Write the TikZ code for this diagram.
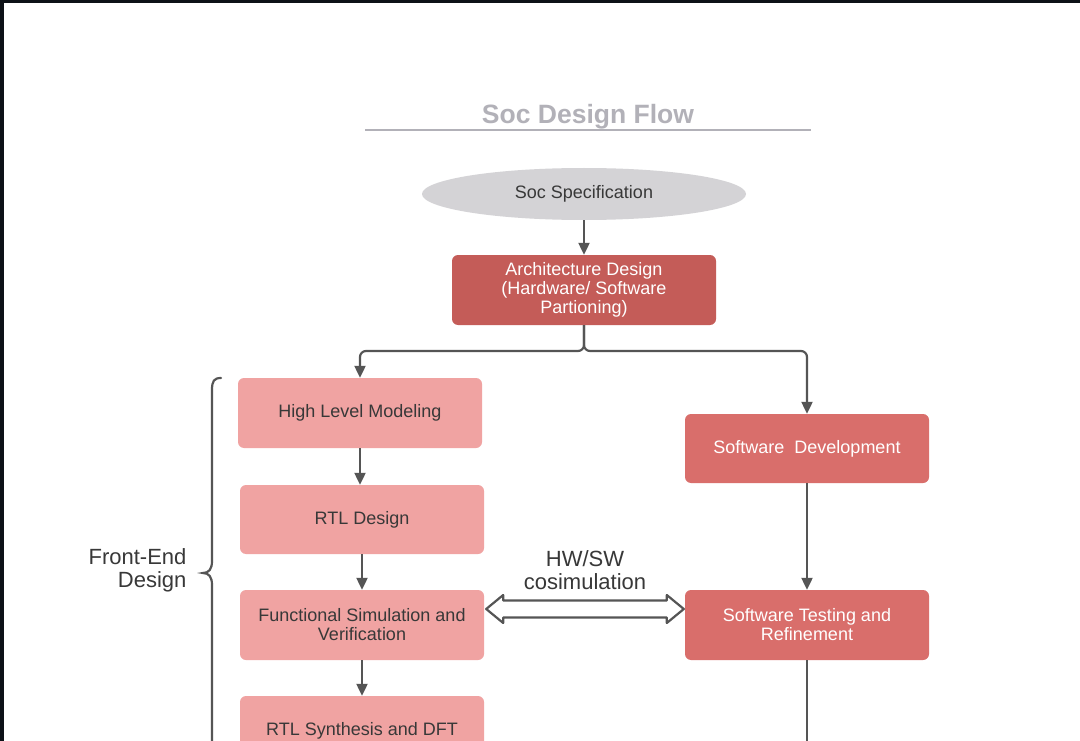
\documentclass[tikz,border=0pt]{standalone}
\usepackage{fontspec}
\setmainfont{Liberation Sans}
\usetikzlibrary{shapes.geometric,arrows.meta,calc}
\definecolor{frame}{HTML}{0D1117}
\definecolor{titlegray}{HTML}{B2B1B8}
\definecolor{specgray}{HTML}{D4D3D6}
\definecolor{archred}{HTML}{C45C58}
\definecolor{swred}{HTML}{D96E6B}
\definecolor{pinkbox}{HTML}{F0A3A2}
\definecolor{conngray}{HTML}{555555}
\definecolor{darktext}{HTML}{383838}
\tikzset{
  boxbase/.style={rectangle, rounded corners=6pt, minimum width=244pt, minimum height=70pt, align=center, inner sep=2pt, font=\fontsize{18}{19}\selectfont},
  archbox/.style={boxbase, fill=archred, text=white, minimum width=264pt},
  swbox/.style={boxbase, fill=swred, text=white},
  febox/.style={boxbase, fill=pinkbox, text=darktext},
  conn/.style={draw=conngray, line width=2.2pt, -{Triangle[length=12pt,width=11pt]}},
  plainline/.style={draw=conngray, line width=2.2pt},
  hollow/.style={draw=conngray, line width=2.2pt, fill=white, line join=round},
  sidelabel/.style={font=\fontsize{22}{23}\selectfont, text=darktext, align=right},
}
\begin{document}
\begin{tikzpicture}[x=1pt, y=-1pt]
\useasboundingbox (0,0) rectangle (1080,741);
\clip (0,0) rectangle (1080,741);
\fill[frame] (0,0) rectangle (1080,741);
\fill[white] (3.5,3.5) rectangle (1080,741);

% title
\node[font=\bfseries\fontsize{26.5}{28}\selectfont, text=titlegray] (title) at (588,117) {Soc Design Flow};
\draw[titlegray, line width=2pt] (365,130) -- (811,130);

% nodes
\node[ellipse, fill=specgray, minimum width=324pt, minimum height=52pt, inner sep=0pt, text=darktext, font=\fontsize{18}{19}\selectfont] (spec) at (584,194) {Soc Specification};
\node[archbox] (arch) at (584,290) {Architecture Design\\(Hardware/ Software\\Partioning)};
\node[febox] (hlm) at (360,413) {High Level Modeling};
\node[febox, minimum height=69pt] (rtl) at (362,519.5) {RTL Design};
\node[febox] (fs) at (362,625) {Functional Simulation and\\Verification};
\node[febox] (syn) at (362,731) {\raisebox{-4pt}{RTL Synthesis and DFT}};
\node[swbox, minimum height=69pt] (swd) at (807,448.5) {Software\ \ Development};
\node[swbox] (swt) at (807,625) {Software Testing and\\Refinement};

% labels
\node[sidelabel, anchor=east] (fe) at (190,570) {Front-End\\Design};
\node[font=\fontsize{22}{23}\selectfont, text=darktext, align=center] (hwsw) at (585,570) {HW/SW\\cosimulation};

% connectors
\draw[conn] (spec) -- (arch);
\coordinate (split) at (584,351);
\draw[conn, rounded corners=6pt] (arch.south) -- (split) -| (hlm.north);
\draw[conn, rounded corners=6pt] (arch.south) -- (split) -| (swd.north);
\draw[conn] (hlm) -- (hlm.south |- rtl.north);
\draw[conn] (rtl) -- (fs);
\draw[conn] (fs) -- (syn);
\draw[conn] (swd) -- (swt);
\coordinate (swend) at (807,760);
\draw[plainline] (swt.south) -- (swend);

% hollow double arrow
\coordinate (hl) at ($(fs.east)+(2,-16)$);
\coordinate (hr) at ($(swt.west)+(-1,-16)$);
\draw[hollow] (hl) -- ++(17,-14) -- ++(0,5.5) -- ($(hr)+(-17,-8.5)$) -- ++(0,-5.5) -- (hr)
  -- ++(-17,14) -- ++(0,-5.5) -- ($(hl)+(17,8.5)$) -- ++(0,5.5) -- cycle;

% brace
\draw[conngray, line width=2.2pt, line cap=round] (221,378) .. controls (214,378) and (212,381) .. (212,390)
  -- (212,561) .. controls (212,569) and (209,573) .. (203,573)
  .. controls (209,573) and (212,577) .. (212,585) -- (212,760);
\end{tikzpicture}
\end{document}
